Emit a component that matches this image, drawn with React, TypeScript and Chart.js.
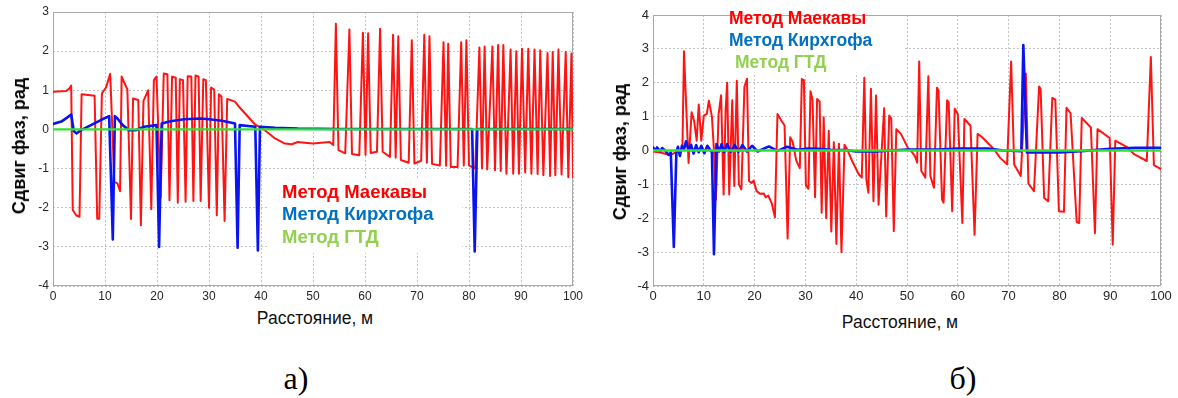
import React, { useEffect, useRef } from "react";
import { Chart, registerables } from "chart.js";

Chart.register(...registerables);

// ---------- data ----------
const seriesNames = ["Метод Маекавы", "Метод Кирхгофа", "Метод ГТД"];
const xAxisTitle = "Расстояние, м";
const yAxisTitle = "Сдвиг фаз, рад";
const panelLabels = ["а)", "б)"];
const xTicks = [0, 10, 20, 30, 40, 50, 60, 70, 80, 90, 100];
const leftYTicks = [-4, -3, -2, -1, 0, 1, 2, 3];
const rightYTicks = [-4, -3, -2, -1, 0, 1, 2, 3, 4];

// panel а) — [distance, phase shift]
const leftMaekava: [number, number][] = [
  [0, 0.96], [2.5, 0.98], [3.2, 1.05], [3.5, 1.12], [3.8, -2.06], [4.5, -2.2], [5.1, -2.23],
  [5.5, 0.9], [8.0, 0.86], [8.5, -2.28], [8.9, -2.28], [9.4, 0.92], [10.2, 1.07], [11.0, 1.42],
  [11.8, -1.34], [12.4, -1.38], [12.9, -1.58], [13.2, 1.35], [14.3, 1.02], [15.0, -2.29],
  [15.4, 0.79], [16.4, 0.75], [16.9, -2.45], [17.4, 0.73], [18.3, 1.0], [18.9, -2.04],
  [19.4, 1.26], [19.9, 1.35], [20.7, -1.74], [21.3, 1.43], [22.0, 1.41], [22.4, -1.81],
  [22.9, 1.35], [23.6, 1.32], [24.0, -1.87], [24.4, 1.28], [25.0, 1.26], [25.5, -1.85],
  [25.9, 1.36], [26.6, 1.35], [27.0, -1.83], [27.4, 1.38], [28.0, 1.35], [28.4, -1.83],
  [28.9, 1.28], [29.4, 1.26], [30.0, -2.0], [30.4, 1.07], [31.0, 1.02], [31.5, -2.19],
  [31.9, 0.9], [32.4, 0.84], [33.0, -2.34], [33.5, 0.78], [35.0, 0.71], [35.9, 0.56],
  [38.9, 0.12], [40.2, 0.03], [41.1, -0.06], [42.7, -0.23], [44.6, -0.36], [45.9, -0.38],
  [47.1, -0.32], [48.4, -0.34], [50.0, -0.36], [51.6, -0.34], [53.2, -0.32], [53.9, -0.4],
  [54.4, 2.7], [54.9, -0.53], [56.2, -0.61], [57.0, 2.55], [57.5, -0.63], [58.9, -0.66],
  [59.6, 2.47], [60.1, -0.65], [60.6, 2.46], [61.1, -0.6], [62.3, -0.57], [62.9, 2.57],
  [63.4, -0.57], [64.8, -0.7], [65.4, 2.42], [65.9, -0.72], [66.4, 2.38], [66.9, -0.78],
  [68.4, -0.85], [69.0, 2.28], [69.5, -0.87], [70.8, -0.8], [71.4, 2.42], [71.9, -0.85],
  [72.4, 2.38], [72.9, -0.88], [74.4, -0.92], [75.1, 2.23], [75.6, -0.93], [76.0, 2.19],
  [76.5, -0.96], [77.8, -0.96], [78.5, 2.23], [79.0, -0.92], [79.5, 2.28], [80.0, -0.92],
  [81.2, -1.0], [82.0, 2.09], [82.5, -1.0], [83.0, 2.12], [83.5, -1.02], [84.5, 2.12],
  [85.0, -1.04], [85.6, 2.16], [86.1, -1.06], [86.6, 2.16], [87.2, -1.13], [88.0, 2.04],
  [88.5, -1.13], [89.1, 2.0], [89.6, -1.13], [90.2, 2.06], [90.8, -1.1], [91.4, 2.06],
  [92.0, -1.13], [92.6, 2.04], [93.2, -1.14], [93.7, 2.02], [94.3, -1.17], [95.1, 1.95],
  [95.6, -1.19], [96.1, 1.98], [96.6, -1.17], [97.2, 2.04], [97.8, -1.15], [98.6, 1.98],
  [99.1, -1.22], [99.7, 1.94], [100, -1.23],
];
const leftKirchhoff: [number, number][] = [
  [0, 0.14], [1.6, 0.2], [2.9, 0.32], [3.5, 0.38], [4.0, -0.04], [4.5, -0.1], [5.4, -0.02],
  [7.3, 0.11], [9.2, 0.24], [10.8, 0.34], [11.5, -2.81], [11.9, 0.34], [12.4, 0.28],
  [13.4, 0.11], [14.6, -0.02], [15.9, -0.02], [17.5, 0.07], [19.9, 0.11], [20.4, -3.0],
  [20.9, 0.15], [22.6, 0.21], [25.2, 0.26], [28.3, 0.28], [30.0, 0.26], [32.5, 0.22],
  [35.0, 0.15], [35.5, -3.02], [35.9, 0.11], [38.9, 0.07], [39.4, -3.09], [39.8, 0.07],
  [42.7, 0.04], [47.1, 0.02], [55, 0.01], [80.6, 0.01], [81.1, -3.12], [81.6, 0.01], [100, 0.01],
];
const leftGtd: [number, number][] = [[0, 0], [50, 0], [100, 0]];

// panel б)
const rightMaekava: [number, number][] = [
  [0, -0.03], [1.4, -0.06], [2.8, -0.11], [3.4, -0.13], [4.4, -0.06], [5.4, 0], [5.8, 0.1],
  [6.1, 2.93], [6.4, 1.8], [7.0, -0.37], [7.6, 1.13], [8.1, 0.87], [8.6, 0.29], [9.0, 1.36],
  [9.5, 0.29], [10.0, 1.03], [10.6, 1.08], [11.0, 1.47], [11.6, 1.0], [12.0, 0.0], [12.4, -1.45],
  [12.9, 1.05], [13.4, 1.63], [13.9, -1.3], [14.3, 1.2], [14.6, 2.0], [15.0, -1.3], [15.6, 1.48],
  [16.0, -1.05], [16.5, 2.06], [16.9, -1.0], [17.4, -1.15], [18.0, 1.88], [18.5, 2.12],
  [18.9, -0.9], [19.4, -0.96], [19.8, -0.89], [20.4, -1.2], [21.1, -1.28], [21.8, -1.27],
  [22.2, -1.38], [22.7, -1.33], [23.4, -1.57], [24.0, -1.97], [24.5, 1.08], [25.2, 0.9],
  [25.9, 0.74], [26.5, -2.6], [27.0, 0.39], [27.5, 0.25], [28.2, -0.3], [28.9, -0.52],
  [29.3, 2.11], [29.7, 2.08], [30.1, -1.03], [30.6, -1.13], [31.0, 1.75], [31.4, 1.5],
  [31.9, -1.38], [32.3, 1.52], [32.8, 1.45], [33.2, -1.84], [33.6, 0.98], [34.1, -2.0],
  [34.6, 0.58], [35.1, -2.39], [35.6, 0.24], [36.1, -2.76], [36.6, 0.2], [37.1, -3.0],
  [37.7, 0.17], [38.2, 0.04], [39.2, -0.31], [40.5, -0.7], [41.1, -0.8], [41.6, 2.15],
  [42.0, -0.85], [42.4, -1.25], [42.9, 1.82], [43.4, -1.5], [43.9, 1.62], [44.4, -1.6],
  [45.5, 1.25], [45.9, -1.95], [46.5, 1.03], [46.9, 0.95], [47.4, -2.38], [47.9, 0.63],
  [48.8, 0.49], [50.2, 0.07], [51.0, -0.05], [51.6, -0.18], [52.0, -0.36], [52.4, 2.63],
  [52.8, -0.6], [53.6, -0.8], [54.2, 2.19], [54.6, -0.75], [55.3, -1.1], [55.9, 1.85],
  [56.2, 1.77], [56.9, -1.45], [57.2, -1.54], [57.9, 1.48], [58.2, 1.43], [58.9, -1.79],
  [59.4, 1.23], [60.0, 1.08], [60.9, -2.14], [61.3, 0.93], [62.5, 0.73], [63.3, -2.49],
  [63.9, 0.49], [64.8, 0.39], [66.1, 0.19], [67.1, 0.04], [68.3, -0.21], [69.7, -0.41],
  [70.5, 2.63], [71.1, -0.41], [72.4, -0.75], [73.4, 2.27], [73.9, -0.98], [75.0, -1.2],
  [76.0, 1.89], [76.3, 1.82], [77.0, -1.4], [77.8, -1.5], [78.6, 1.55], [79.2, 1.5],
  [79.9, -1.79], [80.9, -1.81], [81.4, 1.26], [82.2, 1.1], [83.4, -2.11], [83.9, -2.14],
  [84.4, 0.96], [86.2, 0.68], [87.0, -2.44], [87.5, 0.63], [89.9, 0.37], [90.5, -2.78],
  [91.0, 0.29], [93.4, 0.09], [94.7, -0.11], [97.2, -0.31], [98.0, 2.76], [98.6, -0.43],
  [100, -0.55],
];
const rightKirchhoff: [number, number][] = [
  [0, 0.09], [0.5, 0.0], [0.8, 0.09], [1.4, -0.02], [1.8, 0.07], [2.4, 0.0], [2.8, -0.08],
  [3.1, -0.13], [3.5, -0.06], [4.1, -2.85], [4.6, -0.06], [4.9, 0.11], [5.3, -0.16],
  [5.7, 0.14], [6.1, 0.03], [6.5, 0.27], [7.0, 0.0], [7.5, 0.17], [8.0, -0.09], [8.5, 0.16],
  [9.0, -0.05], [9.5, 0.14], [10.1, -0.08], [10.7, 0.14], [11.3, 0.0], [11.6, -0.05],
  [12.0, -3.06], [12.5, 0.19], [13.0, -0.03], [13.5, 0.19], [14.0, -0.05], [14.6, 0.19],
  [15.3, -0.04], [16.1, 0.16], [16.8, -0.04], [17.6, 0.16], [18.5, -0.03], [19.5, 0.14],
  [20.6, -0.03], [22.8, 0.12], [24.5, -0.01], [26.4, 0.11], [28.5, 0.02], [30.5, 0.06],
  [32.5, 0.05], [35, 0.02], [38, 0.01], [40, -0.03], [44, -0.03], [47, 0.0], [50, 0.03],
  [56, 0.03], [60, 0.06], [66, 0.06], [69, 0.0], [72.5, -0.02], [72.9, 3.11], [73.6, -0.06],
  [80, -0.06], [85, -0.01], [90, 0.05], [95, 0.08], [100, 0.08],
];
const rightGtd: [number, number][] = [[0, 0], [50, 0], [100, 0]];

// ---------- styles ----------
const SANS = "'Liberation Sans', Arial, Helvetica, sans-serif";
const SERIF = "'Liberation Serif', 'Times New Roman', serif";
const lineColors = ["#ff1414", "#0a14f0", "#2ee32e"];
const legendColors = ["#ff0000", "#0070c0", "#92d050"];
const lineWidths = [2.0, 2.6, 2.3];

const panelDecor = {
  id: "panelDecor",
  beforeDatasetsDraw(chart: any, _args: any, opts: any) {
    const { ctx, chartArea, scales } = chart;
    if (opts && opts.box) {
      const [x0, x1, y0, y1] = opts.box;
      const px0 = scales.x.getPixelForValue(x0);
      const px1 = scales.x.getPixelForValue(x1);
      const py0 = scales.y.getPixelForValue(y0);
      const py1 = scales.y.getPixelForValue(y1);
      ctx.save();
      ctx.fillStyle = "#ffffff";
      ctx.fillRect(Math.min(px0, px1), Math.min(py0, py1), Math.abs(px1 - px0), Math.abs(py1 - py0));
      ctx.restore();
    }
    ctx.save();
    ctx.strokeStyle = "#a8a8a8";
    ctx.lineWidth = 1;
    ctx.strokeRect(chartArea.left + 0.5, chartArea.top + 0.5, chartArea.width - 1, chartArea.height - 1);
    ctx.restore();
  },
};

function makeConfig(p: {
  series: [number, number][][];
  yMin: number;
  yMax: number;
  yTicks: number[];
  padTop: number;
  padRight: number;
  yAxisWidth: number;
  tickSize: number;
  box: number[];
}): any {
  const orders = [3, 2, 1];
  const datasets = p.series.map((s, i) => ({
    label: seriesNames[i],
    data: s.map(([x, y]) => ({ x, y })),
    borderColor: lineColors[i],
    backgroundColor: lineColors[i],
    borderWidth: lineWidths[i],
    pointRadius: 0,
    tension: 0,
    fill: false,
    borderJoinStyle: "round",
    borderCapStyle: "round",
    order: orders[i],
  }));
  const tickFont = { family: SANS, size: p.tickSize };
  return {
    type: "line",
    data: { datasets },
    plugins: [panelDecor],
    options: {
      responsive: false,
      animation: false,
      events: [],
      layout: { padding: { left: 0, right: p.padRight, top: p.padTop, bottom: 0 } },
      plugins: {
        legend: { display: false },
        tooltip: { enabled: false },
        panelDecor: { box: p.box },
      },
      scales: {
        x: {
          type: "linear",
          min: 0,
          max: 100,
          afterFit: (s: any) => {
            s.height = 19;
          },
          afterBuildTicks: (s: any) => {
            s.ticks = xTicks.map((v) => ({ value: v }));
          },
          ticks: { font: tickFont, color: "#262626", padding: 3, maxRotation: 0, autoSkip: false },
          grid: { color: "#c4c4c4", lineWidth: 1, drawTicks: false },
          border: { display: false, dash: [2, 2] },
        },
        y: {
          type: "linear",
          min: p.yMin,
          max: p.yMax,
          afterFit: (s: any) => {
            s.width = p.yAxisWidth;
          },
          afterBuildTicks: (s: any) => {
            s.ticks = p.yTicks.map((v) => ({ value: v }));
          },
          ticks: { font: tickFont, color: "#262626", padding: 4, autoSkip: false },
          grid: { color: "#c4c4c4", lineWidth: 1, drawTicks: false },
          border: { display: false, dash: [2, 2] },
        },
      },
    },
  };
}

const abs = (left: number, top: number, extra: any = {}): any => ({
  position: "absolute",
  left,
  top,
  whiteSpace: "nowrap",
  lineHeight: 1,
  ...extra,
});

export default function App() {
  const leftRef = useRef<HTMLCanvasElement | null>(null);
  const rightRef = useRef<HTMLCanvasElement | null>(null);

  useEffect(() => {
    const c1 = new Chart(
      leftRef.current as HTMLCanvasElement,
      makeConfig({
        series: [leftMaekava, leftKirchhoff, leftGtd],
        yMin: -4,
        yMax: 3,
        yTicks: leftYTicks,
        padTop: 12,
        padRight: 17,
        yAxisWidth: 53,
        tickSize: 12,
        box: [41.2, 78.7, -1.25, -3.15],
      })
    );
    const c2 = new Chart(
      rightRef.current as HTMLCanvasElement,
      makeConfig({
        series: [rightMaekava, rightKirchhoff, rightGtd],
        yMin: -4,
        yMax: 4,
        yTicks: rightYTicks,
        padTop: 15,
        padRight: 17,
        yAxisWidth: 63,
        tickSize: 13,
        box: [13.6, 49.6, 4, 2.3],
      })
    );
    return () => {
      c1.destroy();
      c2.destroy();
    };
  }, []);

  const legendLeft = [198, 220, 243];
  const legendRight = [24, 46, 68];

  return (
    <div style={{ position: "absolute", left: 0, top: 0, width: 1178, height: 398, background: "#fff", overflow: "hidden", fontFamily: SANS }}>
      <canvas ref={leftRef} width={590} height={305} style={{ position: "absolute", left: 0, top: 0, width: 590, height: 305 }} />
      <canvas ref={rightRef} width={588} height={305} style={{ position: "absolute", left: 590, top: 0, width: 588, height: 305 }} />

      {/* legends */}
      {seriesNames.map((n, i) => (
        <div key={"l" + i} style={abs(282, legendLeft[i] - 15, { fontSize: 18.5, fontWeight: 700, color: legendColors[i], lineHeight: "18px" })}>
          {n}
        </div>
      ))}
      {seriesNames.map((n, i) => (
        <div key={"r" + i} style={abs(i === 2 ? 735 : 729, legendRight[i] - 15, { fontSize: 17.5, fontWeight: 700, color: legendColors[i], lineHeight: "18px" })}>
          {n}
        </div>
      ))}

      {/* axis titles */}
      <div style={abs(19, 146, { fontSize: 18, fontWeight: 700, color: "#000", transform: "translate(-50%, -50%) rotate(-90deg)" })}>{yAxisTitle}</div>
      <div style={abs(620, 152, { fontSize: 18, fontWeight: 700, color: "#000", transform: "translate(-50%, -50%) rotate(-90deg)" })}>{yAxisTitle}</div>
      <div style={abs(315, 319, { fontSize: 17.5, color: "#111", transform: "translate(-50%, -50%)" })}>{xAxisTitle}</div>
      <div style={abs(900, 323, { fontSize: 17.5, color: "#111", transform: "translate(-50%, -50%)" })}>{xAxisTitle}</div>

      {/* panel labels */}
      <div style={abs(296, 378, { fontSize: 32, fontFamily: SERIF, color: "#000", transform: "translate(-50%, -50%)" })}>{panelLabels[0]}</div>
      <div style={abs(963, 378, { fontSize: 32, fontFamily: SERIF, color: "#000", transform: "translate(-50%, -50%)" })}>{panelLabels[1]}</div>
    </div>
  );
}
